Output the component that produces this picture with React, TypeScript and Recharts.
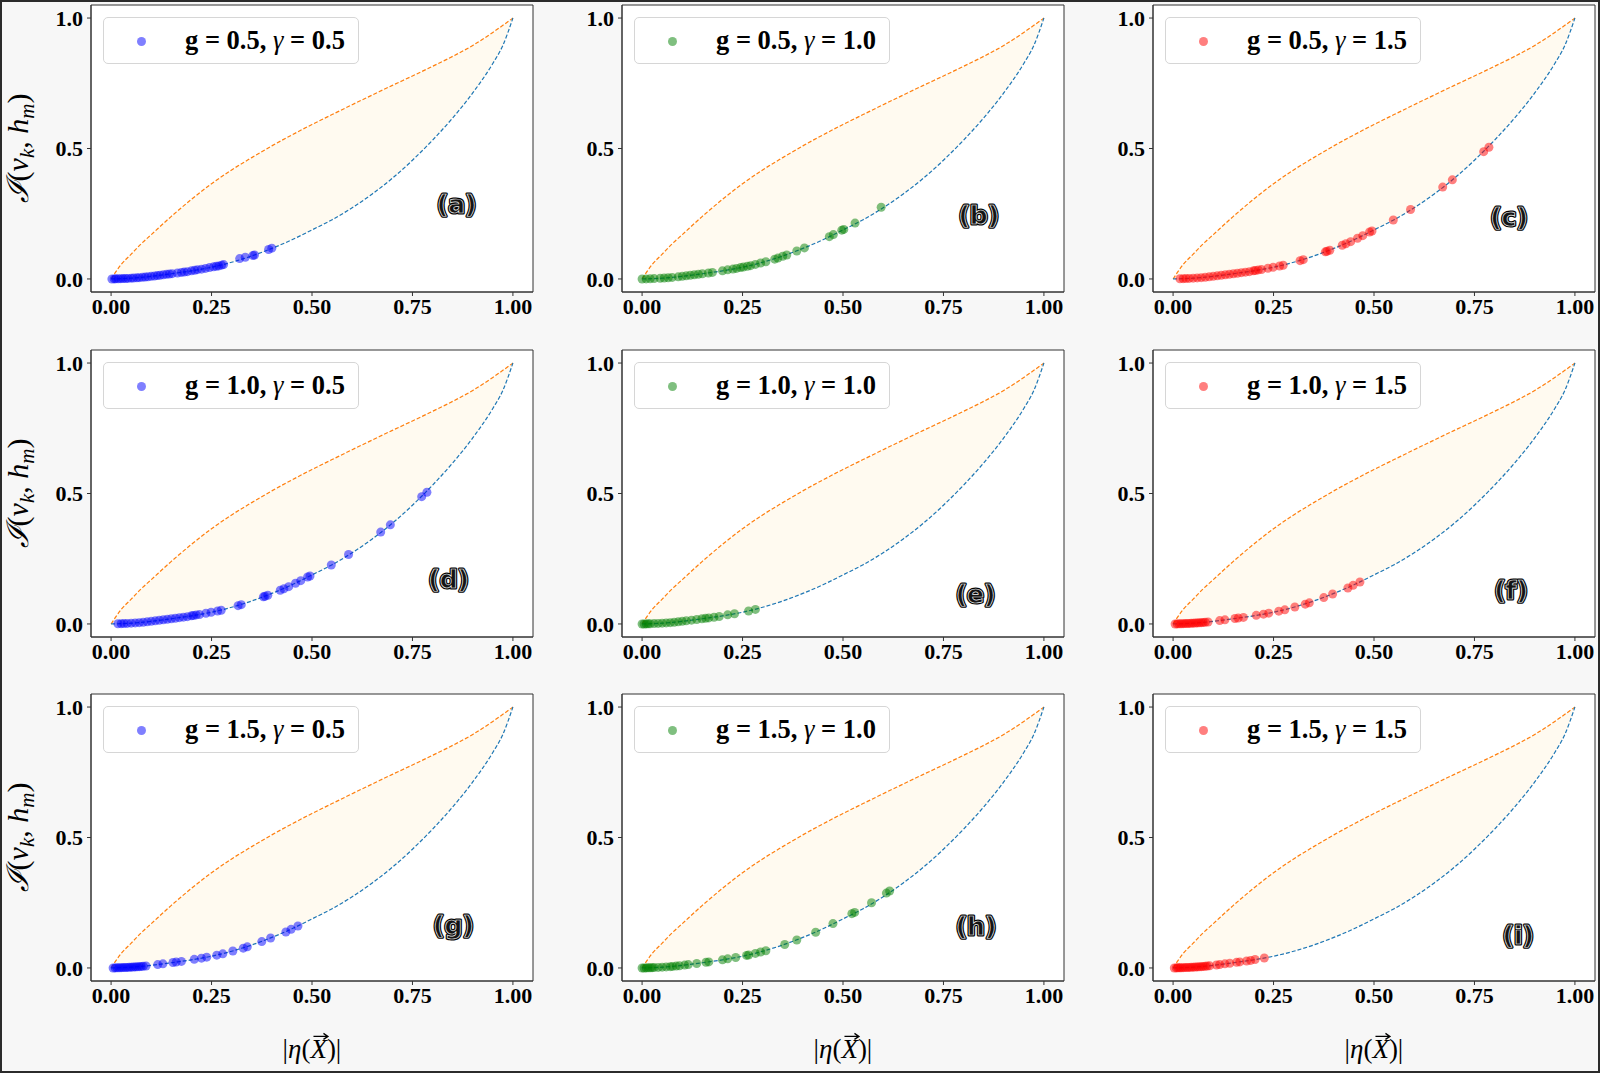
import React from 'react';
import { ComposedChart, Area, Line, Scatter, XAxis, YAxis, CartesianGrid, Legend, ReferenceDot, ReferenceArea } from 'recharts';

// bounding curves (same in every panel)
const curveX = [0, 0.025, 0.05, 0.075, 0.1, 0.15, 0.2, 0.25, 0.3, 0.35, 0.4, 0.45, 0.5, 0.55, 0.6, 0.65, 0.7, 0.75, 0.8, 0.85, 0.9, 0.95, 0.975, 1];
const upperBound = [0, 0.055, 0.095, 0.135, 0.17, 0.24, 0.305, 0.365, 0.418, 0.465, 0.51, 0.552, 0.592, 0.63, 0.668, 0.705, 0.742, 0.778, 0.815, 0.853, 0.895, 0.945, 0.972, 1];
const lowerBound = [0, 0.001, 0.003, 0.006, 0.01, 0.02, 0.031, 0.045, 0.064, 0.088, 0.117, 0.15, 0.188, 0.227, 0.273, 0.326, 0.386, 0.455, 0.532, 0.617, 0.713, 0.826, 0.895, 1];

const gValues = ['0.5', '1.0', '1.5'];
const gammaValues = ['0.5', '1.0', '1.5'];
const pointColors = ['#0000ff', '#008000', '#ff0000'];

const panelTags = ['(a)', '(b)', '(c)', '(d)', '(e)', '(f)', '(g)', '(h)', '(i)'];
const tagX = [0.86, 0.838, 0.836, 0.84, 0.83, 0.841, 0.852, 0.831, 0.859];
const tagY = [0.285, 0.245, 0.237, 0.17, 0.113, 0.129, 0.163, 0.157, 0.126];

const xTicks = [0, 0.25, 0.5, 0.75, 1];
const yTicks = [0, 0.5, 1];

// scatter points [|eta|, I]
const scatterA = [
  [0.002, 0], [0.008, 0.0002], [0.012, 0.0004], [0.018, 0.0007], [0.024, 0.0012], [0.03, 0.0015], [0.036, 0.0018],
  [0.042, 0.0022], [0.05, 0.003], [0.056, 0.0035], [0.064, 0.0043], [0.07, 0.005], [0.078, 0.0062], [0.085, 0.0072],
  [0.092, 0.0083], [0.1, 0.01], [0.108, 0.0115], [0.115, 0.013], [0.122, 0.0144], [0.13, 0.016], [0.138, 0.0176],
  [0.145, 0.019], [0.152, 0.0204], [0.165, 0.023], [0.175, 0.025], [0.182, 0.0264], [0.19, 0.028], [0.2, 0.031],
  [0.208, 0.0334], [0.215, 0.0355], [0.225, 0.0375], [0.235, 0.0405], [0.245, 0.0435], [0.255, 0.0465], [0.262, 0.0486],
  [0.268, 0.05], [0.275, 0.053], [0.28, 0.055], [0.32, 0.078], [0.334, 0.083], [0.353, 0.09], [0.357, 0.092],
  [0.392, 0.113], [0.4, 0.118],
];
const scatterB = [
  [0, 0], [0.01, 0.0003], [0.02, 0.001], [0.03, 0.0015], [0.045, 0.0025], [0.055, 0.0035], [0.065, 0.0045],
  [0.075, 0.0058], [0.09, 0.008], [0.1, 0.01], [0.11, 0.012], [0.12, 0.014], [0.13, 0.016], [0.14, 0.018],
  [0.15, 0.02], [0.165, 0.023], [0.175, 0.025], [0.2, 0.031], [0.213, 0.0349], [0.226, 0.0378], [0.235, 0.0405],
  [0.245, 0.0435], [0.252, 0.0456], [0.262, 0.0486], [0.27, 0.051], [0.282, 0.0558], [0.295, 0.061], [0.308, 0.066],
  [0.33, 0.076], [0.338, 0.08], [0.35, 0.087], [0.36, 0.092], [0.385, 0.107], [0.404, 0.119], [0.466, 0.162],
  [0.476, 0.17], [0.497, 0.187], [0.502, 0.19], [0.53, 0.214], [0.595, 0.275],
];
const scatterC = [
  [0.017, 0.0007], [0.025, 0.0012], [0.032, 0.0016], [0.04, 0.002], [0.05, 0.003], [0.06, 0.004], [0.07, 0.005],
  [0.08, 0.0065], [0.09, 0.008], [0.1, 0.01], [0.11, 0.012], [0.12, 0.014], [0.13, 0.016], [0.14, 0.018],
  [0.15, 0.02], [0.16, 0.022], [0.17, 0.024], [0.18, 0.026], [0.19, 0.028], [0.2, 0.031], [0.205, 0.0325],
  [0.212, 0.0346], [0.22, 0.036], [0.236, 0.041], [0.249, 0.0447], [0.265, 0.0495], [0.274, 0.0525], [0.316, 0.07],
  [0.324, 0.074], [0.379, 0.104], [0.383, 0.106], [0.39, 0.11], [0.421, 0.129], [0.43, 0.135], [0.442, 0.143],
  [0.459, 0.156], [0.472, 0.166], [0.489, 0.18], [0.495, 0.184], [0.548, 0.226], [0.591, 0.266], [0.671, 0.352],
  [0.695, 0.38], [0.773, 0.488], [0.786, 0.505],
];
// (d) reads the same as (c)
const scatterD = scatterC;
const scatterE = [
  [0, 0], [0.005, 0], [0.01, 0.0003], [0.015, 0.0006], [0.02, 0.001], [0.03, 0.0015], [0.04, 0.002], [0.05, 0.003],
  [0.06, 0.004], [0.07, 0.005], [0.08, 0.0065], [0.09, 0.008], [0.1, 0.01], [0.11, 0.012], [0.123, 0.0146],
  [0.136, 0.017], [0.149, 0.0198], [0.158, 0.0216], [0.166, 0.0232], [0.179, 0.0258], [0.192, 0.0286],
  [0.213, 0.0349], [0.23, 0.039], [0.265, 0.0495], [0.282, 0.0558],
];
const scatterF = [
  [0.005, 0], [0.01, 0.0003], [0.015, 0.0006], [0.02, 0.001], [0.025, 0.0012], [0.03, 0.0015], [0.035, 0.0018],
  [0.04, 0.002], [0.045, 0.0025], [0.05, 0.003], [0.055, 0.0035], [0.06, 0.004], [0.065, 0.0045], [0.07, 0.005],
  [0.075, 0.0058], [0.08, 0.0065], [0.087, 0.0075], [0.116, 0.013], [0.129, 0.0158], [0.154, 0.0208], [0.162, 0.0224],
  [0.175, 0.025], [0.207, 0.033], [0.225, 0.0375], [0.238, 0.0415], [0.263, 0.049], [0.278, 0.054], [0.303, 0.065],
  [0.329, 0.076], [0.339, 0.081], [0.375, 0.101], [0.397, 0.115], [0.435, 0.138], [0.448, 0.148], [0.465, 0.161],
];
// (g) reads the same as (f)
const scatterG = scatterF;
const scatterH = [
  [0, 0], [0.005, 0], [0.01, 0.0003], [0.015, 0.0006], [0.02, 0.001], [0.025, 0.0012], [0.03, 0.0015], [0.04, 0.002],
  [0.05, 0.003], [0.06, 0.004], [0.07, 0.005], [0.076, 0.006], [0.085, 0.0072], [0.093, 0.0085], [0.106, 0.011],
  [0.115, 0.013], [0.136, 0.017], [0.159, 0.0218], [0.166, 0.0232], [0.2, 0.031], [0.213, 0.0349], [0.233, 0.04],
  [0.26, 0.048], [0.265, 0.0495], [0.282, 0.0558], [0.295, 0.061], [0.308, 0.066], [0.355, 0.09], [0.385, 0.107],
  [0.432, 0.137], [0.475, 0.17], [0.522, 0.208], [0.529, 0.213], [0.571, 0.25], [0.608, 0.287], [0.616, 0.295],
];
const scatterI = [
  [0.003, 0], [0.008, 0.0002], [0.012, 0.0004], [0.016, 0.0006], [0.02, 0.001], [0.025, 0.0012], [0.03, 0.0015],
  [0.035, 0.0018], [0.04, 0.002], [0.045, 0.0025], [0.05, 0.003], [0.055, 0.0035], [0.06, 0.004], [0.065, 0.0045],
  [0.07, 0.005], [0.075, 0.0058], [0.08, 0.0065], [0.085, 0.0072], [0.091, 0.0082], [0.108, 0.0115], [0.116, 0.013],
  [0.129, 0.0158], [0.141, 0.018], [0.158, 0.0216], [0.166, 0.0232], [0.183, 0.0266], [0.193, 0.0289],
  [0.204, 0.0322], [0.227, 0.038],
];
const panelPoints = [scatterA, scatterB, scatterC, scatterD, scatterE, scatterF, scatterG, scatterH, scatterI];

const boundTable = curveX.map((x, i) => ({
  x,
  upper: upperBound[i],
  lower: lowerBound[i],
  band: [lowerBound[i], upperBound[i]],
}));

const colLeft = [0, 531, 1062];
const rowTop = [0.3, 345.3, 689.3];
const SERIF = "'Liberation Serif', 'Times New Roman', serif";
const tickStyle = { fontFamily: SERIF, fontWeight: 700, fontSize: 22, fill: '#000' };

function PanelTag({ cx, cy, text }: any) {
  const common = {
    x: cx,
    y: cy,
    textAnchor: 'middle' as const,
    dominantBaseline: 'central' as const,
    fontFamily: "'DejaVu Sans', sans-serif",
    fontWeight: 700,
    fontSize: 25,
  };
  return (
    <g>
      <text {...common} fill="#000" stroke="#000" strokeWidth={3.2} strokeLinejoin="round">{text}</text>
      <text {...common} fill="#141414" stroke="#f2f2f2" strokeWidth={0.7}>{text}</text>
    </g>
  );
}

function YTitle(props: any) {
  const vb = props.viewBox || { x: 0, y: 0, height: 287 };
  const bx = vb.x + 28;
  const cy = vb.y + vb.height / 2;
  return (
    <text x={bx} y={cy} transform={`rotate(-90 ${bx} ${cy})`} textAnchor="middle" fontFamily={`${SERIF}, 'DejaVu Serif'`} fontSize={30} fill="#000">
      <tspan fontStyle="italic">ℐ</tspan>
      <tspan>(</tspan>
      <tspan fontStyle="italic">v</tspan>
      <tspan fontStyle="italic" fontSize={21} dy={6}>k</tspan>
      <tspan dy={-6}>, </tspan>
      <tspan fontStyle="italic">h</tspan>
      <tspan fontStyle="italic" fontSize={21} dy={6}>m</tspan>
      <tspan dy={-6}>)</tspan>
    </text>
  );
}

// |η(X⃗)| : text laid out from a known start so the vector arrow can sit over the X
function XTitle(props: any) {
  const vb = props.viewBox || { x: 91, y: 287, width: 442 };
  const fs = 27;
  const cx = vb.x + vb.width / 2;
  const by = vb.y + 77;
  const start = cx - 1.09 * fs;
  const xLeft = start + 1.033 * fs;
  const xRight = xLeft + 0.611 * fs;
  const ay = by - 0.8 * fs;
  return (
    <g>
      <text x={start} y={by} textAnchor="start" fontFamily={SERIF} fontSize={fs} fill="#000">
        <tspan>|</tspan>
        <tspan fontStyle="italic">η</tspan>
        <tspan>(</tspan>
        <tspan fontStyle="italic">X</tspan>
        <tspan>)|</tspan>
      </text>
      <path
        d={`M${xLeft + 3} ${ay} L${xRight + 1} ${ay} M${xRight - 3.5} ${ay - 3} L${xRight + 1} ${ay} L${xRight - 3.5} ${ay + 3}`}
        stroke="#000"
        strokeWidth={1.3}
        fill="none"
      />
    </g>
  );
}

function PanelLegend({ g, gamma, color }: any) {
  return (
    <div
      style={{
        width: 256,
        height: 47,
        boxSizing: 'border-box',
        border: '1px solid #d6d6d6',
        borderRadius: 5,
        background: '#fff',
        position: 'relative',
        fontFamily: SERIF,
        fontWeight: 700,
        fontSize: 26.5,
        color: '#000',
        textAlign: 'left',
      }}
    >
      <span
        style={{
          position: 'absolute',
          left: 32.5,
          top: 18.5,
          width: 9,
          height: 9,
          borderRadius: '50%',
          background: color,
          opacity: 0.5,
        }}
      />
      <span style={{ position: 'absolute', left: 81, top: 0, lineHeight: '45px', whiteSpace: 'nowrap' }}>
        g = {g}, <i style={{ fontWeight: 400 }}>γ</i> = {gamma}
      </span>
    </div>
  );
}

function Panel({ row, col }: { row: number; col: number }) {
  const idx = row * 3 + col;
  const color = pointColors[col];
  const points = panelPoints[idx].map(([x, y]) => ({ x, y }));
  const isBottom = row === 2;
  const isLeft = col === 0;

  return (
    <div style={{ position: 'absolute', left: colLeft[col], top: rowTop[row] }}>
      <ComposedChart
        width={535}
        height={isBottom ? 382 : 332}
        data={boundTable}
        margin={{ top: 5, right: 2, bottom: isBottom ? 50 : 0, left: 0 }}
      >
        <CartesianGrid horizontal={false} vertical={false} fill="#fff" fillOpacity={1} />
        <XAxis
          dataKey="x"
          type="number"
          domain={[-0.05, 1.05]}
          ticks={xTicks}
          tickFormatter={(v: number) => v.toFixed(2)}
          height={40}
          tick={tickStyle}
          tickSize={4}
          tickMargin={2}
          stroke="#333"
          label={isBottom ? { content: (p: any) => <XTitle {...p} /> } : undefined}
        />
        <YAxis
          type="number"
          domain={[-0.05, 1.05]}
          ticks={yTicks}
          tickFormatter={(v: number) => v.toFixed(1)}
          width={91}
          tick={tickStyle}
          tickSize={4}
          tickMargin={4}
          stroke="#333"
          label={isLeft ? { content: (p: any) => <YTitle {...p} /> } : undefined}
        />

        <Area
          dataKey="band"
          type="monotone"
          stroke="none"
          fill="#ffa500"
          fillOpacity={0.06}
          legendType="none"
          activeDot={false}
          isAnimationActive={false}
        />
        <Scatter
          name={`g = ${gValues[row]}, γ = ${gammaValues[col]}`}
          data={points}
          dataKey="y"
          fill={color}
          shape={(p: any) => <circle cx={p.cx} cy={p.cy} r={4.5} fill={color} fillOpacity={0.5} />}
          isAnimationActive={false}
        />
        <Line
          dataKey="upper"
          type="monotone"
          stroke="#ff7f0e"
          strokeWidth={1.2}
          strokeDasharray="4 2"
          dot={false}
          activeDot={false}
          legendType="none"
          isAnimationActive={false}
        />
        <Line
          dataKey="lower"
          type="monotone"
          stroke="#1f77b4"
          strokeWidth={1.2}
          strokeDasharray="4 2"
          dot={false}
          activeDot={false}
          legendType="none"
          isAnimationActive={false}
        />
        {/* full axes frame (top and right spines) */}
        <ReferenceArea x1={-0.05} x2={1.05} y1={-0.05} y2={1.05} fill="none" fillOpacity={0} stroke="#333" strokeWidth={1} ifOverflow="visible" />
        <ReferenceDot
          x={tagX[idx]}
          y={tagY[idx]}
          r={0}
          shape={(p: any) => <PanelTag cx={p.cx} cy={p.cy} text={panelTags[idx]} />}
        />
        <Legend
          layout="horizontal"
          verticalAlign="middle"
          align="center"
          wrapperStyle={{ left: 103, top: 17, width: 256, height: 47 }}
          content={() => <PanelLegend g={gValues[row]} gamma={gammaValues[col]} color={color} />}
        />
      </ComposedChart>
    </div>
  );
}

export default function App() {
  const cells = [];
  for (let r = 0; r < 3; r++) {
    for (let c = 0; c < 3; c++) {
      cells.push(<Panel key={`${r}-${c}`} row={r} col={c} />);
    }
  }
  return (
    <div
      style={{
        position: 'absolute',
        left: 0,
        top: 0,
        width: 1600,
        height: 1073,
        background: '#f7f7f7',
        overflow: 'hidden',
      }}
    >
      {cells}
      <div
        style={{
          position: 'absolute',
          inset: 0,
          border: '2px solid #2b2b2b',
          pointerEvents: 'none',
        }}
      />
    </div>
  );
}
